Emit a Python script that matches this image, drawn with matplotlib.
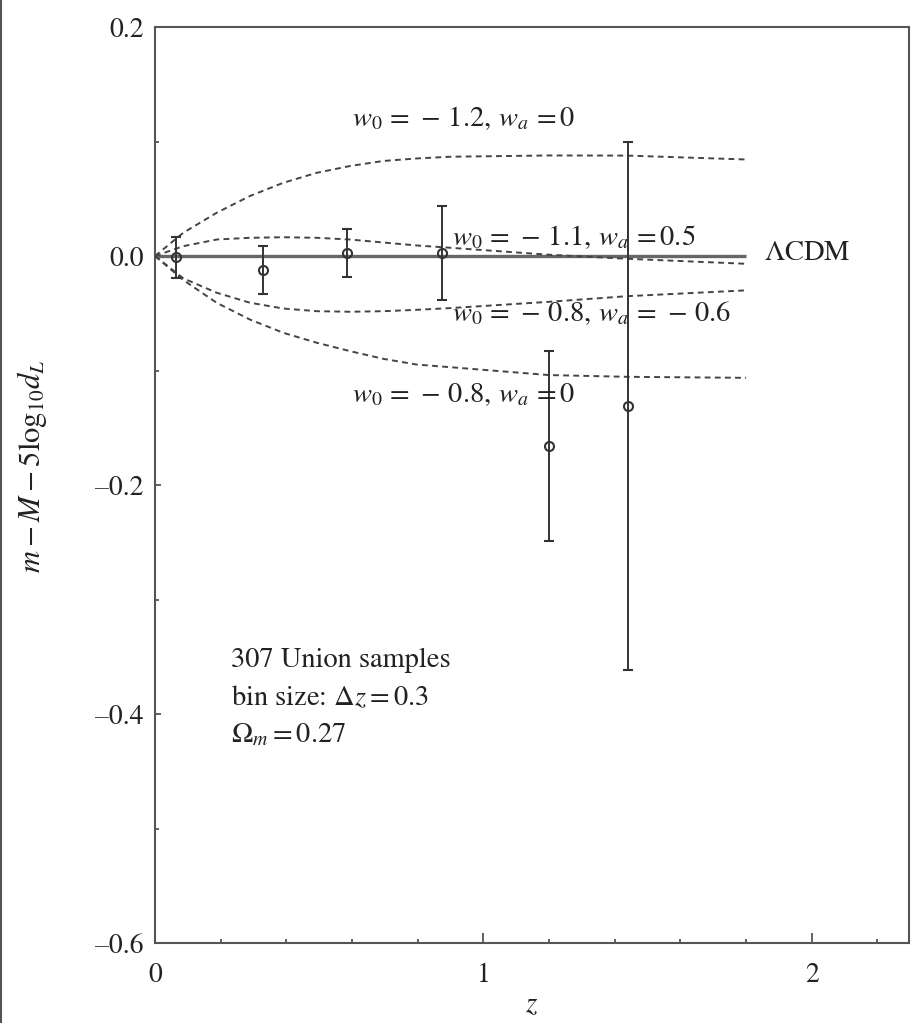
import matplotlib
matplotlib.use("Agg")
import matplotlib.pyplot as plt
from matplotlib.lines import Line2D
from matplotlib.ticker import MultipleLocator, FixedLocator

plt.rcParams["font.family"] = ["STIXGeneral", "DejaVu Serif"]
plt.rcParams["mathtext.fontset"] = "stix"

# Binned Union supernova residuals (bin size 0.3)
bin_z = [0.064, 0.33, 0.584, 0.873, 1.20, 1.44]
bin_resid = [-0.001, -0.012, 0.003, 0.003, -0.166, -0.131]
bin_err = [0.018, 0.021, 0.021, 0.041, 0.083, 0.231]

# Model curves relative to LCDM (Omega_m = 0.27)
model_z = [0.0, 0.086, 0.188, 0.289, 0.391, 0.493, 0.594, 0.695, 0.797, 0.899,
           1.2, 1.437, 1.8]
w12_wa0 = [0.0, 0.0203, 0.0378, 0.0524, 0.0640, 0.0727, 0.0786, 0.0830, 0.0852,
           0.0867, 0.0878, 0.0877, 0.0843]
w11_wa05 = [0.0, 0.0086, 0.0144, 0.0159, 0.0164, 0.0159, 0.0144, 0.0118, 0.0092,
            0.0072, 0.0011, -0.0024, -0.0068]
w08_wam06 = [0.0, -0.0195, -0.0321, -0.0408, -0.0459, -0.0482, -0.0487, -0.0482,
             -0.0470, -0.0455, -0.0400, -0.0351, -0.0300]
w08_wa0 = [0.0, -0.0210, -0.0409, -0.0555, -0.0671, -0.0758, -0.0831, -0.0898,
           -0.0948, -0.0971, -0.1040, -0.1055, -0.1064]
lcdm_z = [0.0, 1.8]
lcdm_resid = [0.0, 0.0]

x_ticks = [0, 1, 2]
y_ticks = [0.2, 0.0, -0.2, -0.4, -0.6]
y_ticklabels = ["0.2", "0.0", "\u20130.2", "\u20130.4", "\u20130.6"]

fig = plt.figure(figsize=(9.12, 10.23), dpi=100)
ax = fig.add_axes([0.170, 0.0782, 0.8267, 0.8954])

spine_col = "#555555"
curve_col = "#444444"
text_col = "#222222"

ax.plot(lcdm_z, lcdm_resid, color="#666666", lw=2.4, solid_capstyle="butt", zorder=2)
for series in (w12_wa0, w11_wa05, w08_wam06, w08_wa0):
    ax.plot(model_z, series, color=curve_col, lw=1.4, linestyle=(0, (3.0, 2.2)), zorder=3)

ax.errorbar(bin_z, bin_resid, yerr=bin_err, fmt="o", mfc="none", mec="#333333",
            ms=6.5, mew=1.5, ecolor="#333333", elinewidth=1.4, capsize=3.5,
            capthick=1.4, zorder=4)

ax.set_xlim(0, 2.296)
ax.set_ylim(-0.6, 0.2)

ax.xaxis.set_major_locator(FixedLocator(x_ticks))
ax.xaxis.set_minor_locator(MultipleLocator(0.2))
ax.yaxis.set_major_locator(FixedLocator(y_ticks))
ax.yaxis.set_minor_locator(MultipleLocator(0.1))
ax.set_xticklabels([str(t) for t in x_ticks])
ax.set_yticklabels(y_ticklabels)

ax.tick_params(axis="both", which="both", direction="in", top=False, right=False,
               color=spine_col, labelsize=20, labelcolor=text_col)
ax.tick_params(axis="x", which="major", length=7, width=1.3, pad=14)
ax.tick_params(axis="x", which="minor", length=3, width=1.3)
ax.tick_params(axis="y", which="major", length=4, width=1.3, pad=8)
ax.tick_params(axis="y", which="minor", length=3, width=1.3)
for sp in ax.spines.values():
    sp.set_color(spine_col)
    sp.set_linewidth(1.5)

ax.set_xlabel(r"$z$", fontsize=21, color=text_col, labelpad=4)
ax.set_ylabel(r"$m - M - 5\mathrm{log}_{10}d_L$", fontsize=22, color=text_col)
ax.yaxis.set_label_coords(-0.140, 0.52)

lab_kw = dict(fontsize=20.5, color=text_col, va="center", zorder=5)
ax.text(0.60, 0.120, r"$w_0\,=\,-\,1.2,\,w_a\,=0$", ha="left", **lab_kw)
ax.text(0.905, 0.0165, r"$w_0\,=\,-\,1.1,\,w_a\,=0.5$", ha="left", **lab_kw)
ax.text(0.905, -0.050, r"$w_0\,=\,-\,0.8,\,w_a\,=\,-\,0.6$", ha="left", **lab_kw)
ax.text(0.60, -0.121, r"$w_0\,=\,-\,0.8,\,w_a\,=0$", ha="left", **lab_kw)
ax.text(1.855, 0.002, r"$\Lambda$CDM", ha="left", **lab_kw)

ax.text(0.23, -0.353, "307 Union samples", ha="left", **lab_kw)
ax.text(0.23, -0.386, r"bin size: $\Delta z = 0.3$", ha="left", **lab_kw)
ax.text(0.23, -0.418, r"$\Omega_m = 0.27$", ha="left", **lab_kw)

fig.add_artist(Line2D([0.0015, 0.0015], [0, 1], transform=fig.transFigure,
                      color=spine_col, lw=1.5))

fig.savefig("out.png", dpi=100, facecolor="white")
